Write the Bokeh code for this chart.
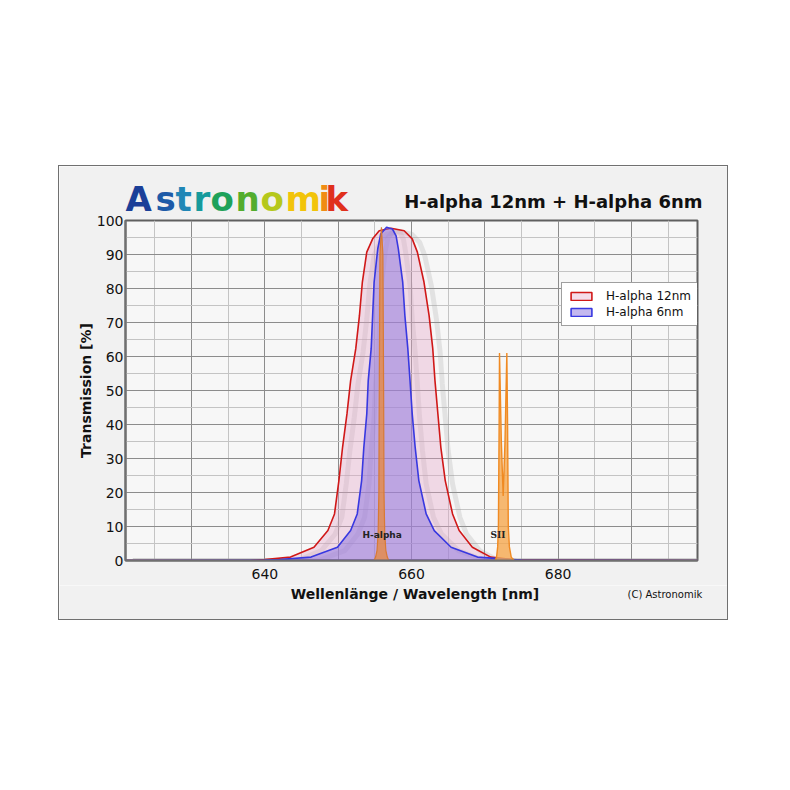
from bokeh.plotting import figure
from bokeh.embed import file_html
from bokeh.resources import INLINE
from bokeh.models import FixedTicker, Label, Spacer, Range1d
from bokeh.layouts import column, row
from bokeh.core.properties import value

# ---- data ----
red_wl = [621, 638, 640, 643.5, 646.7, 648.6, 649.5, 650.1, 650.6, 651.2, 651.7, 652.4, 652.9, 653.3,
          653.9, 654.7, 655.6, 657.2, 659.0, 660.1, 660.8, 661.7, 662.4, 662.9, 663.2, 663.6, 664.0,
          664.6, 665.6, 666.5, 668.3, 670.8, 674, 699]
red_t = [0, 0, 0.3, 1, 3.9, 8.8, 13.7, 23.5, 33.3, 43.1, 52.9, 62.3, 72, 81.9,
         90.7, 94.6, 97, 97.7, 97, 94.6, 90.7, 81.9, 72, 62.3, 52.9, 43.1, 33.3,
         23.5, 13.7, 8.8, 3.9, 1, 0.2, 0]

blue_wl = [621, 640, 642, 646.3, 649.9, 651.7, 652.6, 653.2, 653.5, 653.9, 654.1, 654.5, 654.7, 654.9,
           655.4, 655.8, 656.6, 657.4, 657.9, 658.2, 658.8, 659.1, 659.5, 659.8, 660.1, 660.5, 661.0,
           662.0, 663.1, 665.4, 669.0, 675, 699]
blue_t = [0, 0.1, 0.3, 1, 3.9, 8.8, 13.7, 23.5, 33.3, 43.1, 52.9, 62.3, 72, 81.9,
          91.7, 96, 98, 97.5, 95.5, 91.7, 81.9, 72, 62.3, 52.9, 43.1, 33.3, 23.5,
          13.7, 8.8, 3.9, 1, 0.1, 0]

ha_wl = [654.9, 655.1, 655.3, 655.45, 655.55, 655.6, 655.7, 655.9, 656.1, 656.2, 656.25, 656.35, 656.5, 656.7, 656.9]
ha_t = [0, 1, 3, 8, 20, 50, 90, 98, 90, 50, 20, 8, 3, 1, 0]

sii_wl = [671.4, 671.6, 671.75, 671.85, 671.95, 672.0, 672.25, 672.5, 672.75, 673.0, 673.1, 673.2, 673.35, 673.6, 674.0]
sii_t = [0, 1, 4, 10, 40, 61, 35, 19, 35, 61, 40, 10, 4, 1, 0]

x_ticks = [640, 660, 680]
x_grid_major = [630, 640, 650, 660, 670, 680, 690]
x_grid_minor = [625, 635, 645, 655, 665, 675, 685, 695]
y_ticks = [0, 10, 20, 30, 40, 50, 60, 70, 80, 90, 100]
y_grid_minor = [5, 15, 25, 35, 45, 55, 65, 75, 85, 95]

title_text = "H-alpha 12nm + H-alpha 6nm"
x_label = "Wellenlänge / Wavelength [nm]"
y_label = "Transmission [%]"
credit = "(C) Astronomik"
logo_letters = ["A", "s", "t", "r", "o", "n", "o", "m", "i", "k"]
logo_colors = ["#1b3f98", "#1d5aa8", "#1f86b6", "#169a9c", "#1ea25a", "#53ad2e",
               "#b5c81c", "#f2c40a", "#f08c12", "#e0301c"]

FONT = "DejaVu Sans"
PANEL = "#f1f1f1"
W = 668
OVERLAP = 8
HEAD_H, MAIN_H, FOOT_H = 54, 373, 34


def strip_figure(h):
    f = figure(width=W, height=h, output_backend="svg", toolbar_location=None,
               x_range=Range1d(0, W), y_range=Range1d(h, 0),
               x_axis_location=None, y_axis_location=None, title_location=None,
               min_border=0, min_border_left=0, min_border_right=0, min_border_top=0, min_border_bottom=0)
    f.frame_align = False
    f.grid.visible = False
    f.outline_line_color = None
    f.background_fill_color = PANEL
    f.border_fill_color = PANEL
    return f


# ---- header: logo + title ----
head = strip_figure(HEAD_H)
logo_x = [66, 96, 116, 134, 151, 176, 201, 226, 259, 266]
head.text(x=logo_x, y=[32] * len(logo_letters), text=logo_letters, text_color=logo_colors,
          text_font=value(FONT), text_font_style="bold", text_font_size="34px",
          text_align="left", text_baseline="middle")
head.text(x=[643], y=[35], text=[title_text], text_color="#111111", text_font=value(FONT),
          text_font_style="bold", text_font_size="18px", text_align="right", text_baseline="middle")

# ---- main chart ----
p = figure(width=W, height=MAIN_H, output_backend="svg", toolbar_location=None,
           x_range=Range1d(621, 699), y_range=Range1d(0, 100),
           min_border_left=66, min_border_right=30, min_border_top=OVERLAP, min_border_bottom=25)
p.frame_align = False
p.margin = (-OVERLAP, 0, 0, 0)
p.border_fill_color = PANEL
p.background_fill_color = "#f7f7f7"
p.outline_line_color = "#606060"
p.outline_line_width = 2

p.xgrid.ticker = FixedTicker(ticks=x_grid_major, minor_ticks=x_grid_minor)
p.ygrid.ticker = FixedTicker(ticks=y_ticks, minor_ticks=y_grid_minor)
p.xgrid.grid_line_color = "#8c8c8c"
p.ygrid.grid_line_color = "#8c8c8c"
p.xgrid.minor_grid_line_color = "#c4c4c4"
p.ygrid.minor_grid_line_color = "#c4c4c4"

p.xaxis.ticker = FixedTicker(ticks=x_ticks)
p.yaxis.ticker = FixedTicker(ticks=y_ticks)
for ax in (p.xaxis[0], p.yaxis[0]):
    ax.major_tick_line_color = None
    ax.minor_tick_line_color = None
    ax.major_tick_out = 0
    ax.major_tick_in = 0
    ax.minor_tick_out = 0
    ax.minor_tick_in = 0
    ax.axis_line_color = "#707070"
    ax.axis_line_width = 2
    ax.major_label_text_font = FONT
    ax.major_label_text_font_size = "14px"
    ax.major_label_text_color = "#111111"
    ax.axis_label_text_font = FONT
    ax.axis_label_text_font_style = "bold"
    ax.axis_label_text_font_size = "14px"
    ax.axis_label_text_color = "#111111"
p.yaxis.axis_label = y_label
p.xaxis.major_label_standoff = 8
p.yaxis.major_label_standoff = 2
p.yaxis.axis_label_standoff = 0

# shadows
p.line([w + 1.0 for w in red_wl], [max(t - 1.0, 0) for t in red_t], line_color="#9a9a9a", line_width=5, line_alpha=0.22)
p.line([w + 1.0 for w in blue_wl], [max(t - 1.0, 0) for t in blue_t], line_color="#9a9a9a", line_width=5, line_alpha=0.22)

# filter curves
p.patch(red_wl, red_t, fill_color="#e6a6c8", fill_alpha=0.38, line_color="#d01818", line_width=1.6,
        legend_label="H-alpha 12nm")
p.patch(blue_wl, blue_t, fill_color="#8a72e0", fill_alpha=0.5, line_color="#3838e0", line_width=1.6,
        legend_label="H-alpha 6nm")

# emission lines
p.patch(ha_wl, ha_t, fill_color="#e8883a", fill_alpha=0.75, line_color="#d87a34", line_width=1.2)
p.patch(sii_wl, sii_t, fill_color="#f5a84e", fill_alpha=0.8, line_color="#f08a22", line_width=1.4)

p.add_layout(Label(x=656.0, y=7.5, text="H-alpha", text_font=FONT, text_font_style="bold",
                   text_font_size="9px", text_align="center", text_baseline="middle", text_color="#222222"))
p.add_layout(Label(x=671.8, y=7.5, text="SII", text_font="DejaVu Serif", text_font_style="bold",
                   text_font_size="9px", text_align="center", text_baseline="middle", text_color="#222222"))

lg = p.legend[0]
lg.location = (436, 234)
lg.background_fill_color = "white"
lg.background_fill_alpha = 1
lg.border_line_color = "#404040"
lg.border_line_width = 1
lg.label_text_font = FONT
lg.label_text_font_size = "12px"
lg.label_text_color = "#111111"
lg.glyph_width = 26
lg.glyph_height = 10
lg.label_height = 14
lg.label_standoff = 12
lg.spacing = 2
lg.padding = 6
lg.margin = 0

# ---- footer: x axis title + credit ----
foot = strip_figure(FOOT_H)
foot.text(x=[355.5], y=[8], text=[x_label], text_color="#111111", text_font=value(FONT),
          text_font_style="bold", text_font_size="14px", text_align="center", text_baseline="middle")
foot.text(x=[568], y=[9], text=[credit], text_color="#111111", text_font=value(FONT),
          text_font_size="10px", text_align="left", text_baseline="middle")

panel = column(head, p, foot, spacing=0, styles={"border": "1px solid #707070"})
layout = column(Spacer(width=10, height=165), row(Spacer(width=58, height=10), panel))
open("out.html", "w").write(file_html(layout, INLINE))
